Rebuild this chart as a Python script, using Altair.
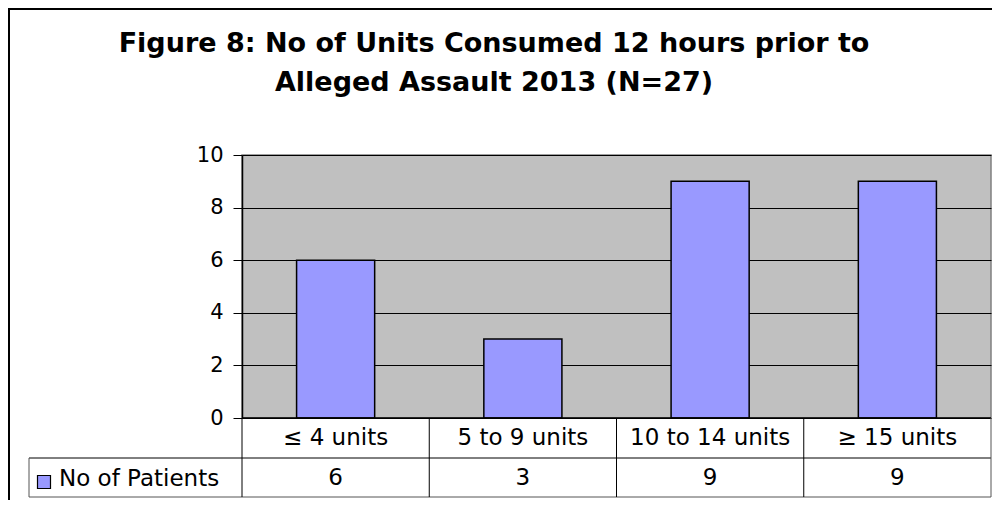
import altair as alt
import pandas as pd

categories = ["≤ 4 units", "5 to 9 units", "10 to 14 units", "≥ 15 units"]
patients = [6, 3, 9, 9]
series_name = "No of Patients"
title_lines = ["Figure 8: No of Units Consumed 12 hours prior to", "Alleged Assault 2013 (N=27)"]
y_ticks = [0, 2, 4, 6, 8, 10]

df = pd.DataFrame({"cat": categories, "val": patients, "lab": [str(v) for v in patients]})

W, H = 749, 263
FONT = "DejaVu Sans"
BAR = "#9999FF"
step = W / len(categories)
row1_bottom = H + 40
row2_bottom = H + 79
legend_left = -213

xenc = alt.X("cat:N", sort=categories, axis=None,
             scale=alt.Scale(paddingInner=0.583, paddingOuter=0.2915))

bars = alt.Chart(df).mark_bar(fill=BAR, stroke="black", strokeWidth=1.5).encode(
    x=xenc,
    y=alt.Y("val:Q", scale=alt.Scale(domain=[0, 10]),
            axis=alt.Axis(values=y_ticks, title=None, grid=True, gridColor="black",
                          gridWidth=1, domainColor="black", domainWidth=1.5,
                          tickColor="black", tickSize=9, labelFont=FONT,
                          labelFontSize=21, labelColor="black", labelPadding=10)),
)

cat_text = alt.Chart(df).mark_text(font=FONT, fontSize=23, color="black", baseline="middle").encode(
    x=alt.X("cat:N", sort=categories), y=alt.value(H + 20), text="cat:N")
val_text = alt.Chart(df).mark_text(font=FONT, fontSize=23, color="black", baseline="middle").encode(
    x=alt.X("cat:N", sort=categories), y=alt.value(H + 60), text="lab:N")

base = alt.Chart(pd.DataFrame({"a": [0]}))

def hrule(x1, x2, y, color="black", w=1):
    return base.mark_rule(color=color, strokeWidth=w).encode(
        x=alt.value(x1), x2=alt.value(x2), y=alt.value(y))

def vrule(x, y1, y2, color="black", w=1):
    return base.mark_rule(color=color, strokeWidth=w).encode(
        x=alt.value(x), y=alt.value(y1), y2=alt.value(y2))

lines = [
    hrule(0, W, H, w=1.5),
    hrule(legend_left, W, row1_bottom),
    hrule(legend_left, W, row2_bottom, color="#555555"),
    vrule(legend_left, row1_bottom, row2_bottom, color="#555555"),
]
for i in range(len(categories) + 1):
    lines.append(vrule(i * step, H, row2_bottom, color="#555555" if i == len(categories) else "black"))

legend_key = base.mark_square(size=169, fill=BAR, stroke="black", strokeWidth=1.2, opacity=1).encode(
    x=alt.value(-198), y=alt.value(H + 64))
legend_text = base.mark_text(font=FONT, fontSize=23, align="left", baseline="middle", color="black").encode(
    x=alt.value(-183), y=alt.value(H + 61), text=alt.value(series_name))

title1 = base.mark_text(font=FONT, fontSize=27, fontWeight="bold", align="center",
                        baseline="alphabetic", color="black").encode(
    x=alt.value(252), y=alt.value(-103), text=alt.value(title_lines[0]))
title2 = base.mark_text(font=FONT, fontSize=27, fontWeight="bold", align="center",
                        baseline="alphabetic", color="black").encode(
    x=alt.value(252), y=alt.value(-64), text=alt.value(title_lines[1]))

border_top = hrule(-234, W + 10, -146, w=2)
border_left = vrule(-233, -147, H + 90, w=2)

chart = alt.layer(border_top, border_left, bars, cat_text, val_text, *lines, legend_key, legend_text,
                  title1, title2).properties(
    width=W, height=H,
    padding={"left": 234, "top": 147, "right": 1, "bottom": 82},
    autosize=alt.AutoSizeParams(type="none"),
).configure(background="white").configure_view(fill="#C0C0C0", stroke="#808080", strokeWidth=1.5)

chart.save("out.html", embed_options={"renderer": "svg", "actions": False})
